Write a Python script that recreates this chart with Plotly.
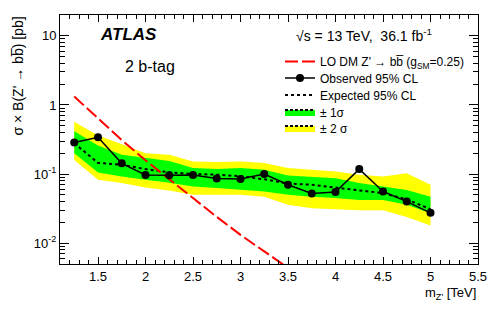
import plotly.graph_objects as go

# ---- data ----
mass = [1.25, 1.5, 1.75, 2.0, 2.25, 2.5, 2.75, 3.0, 3.25, 3.5, 3.75, 4.0, 4.25, 4.5, 4.75, 5.0]
observed = [0.287, 0.34, 0.143, 0.097, 0.096, 0.097, 0.086, 0.085, 0.100, 0.070, 0.0525, 0.055, 0.118, 0.056, 0.040, 0.0275]
expected = [0.28, 0.145, 0.136, 0.118, 0.106, 0.100, 0.098, 0.093, 0.084, 0.073, 0.070, 0.063, 0.058, 0.053, 0.043, 0.031]
plus2 = [0.57, 0.36, 0.27, 0.20, 0.19, 0.152, 0.149, 0.152, 0.144, 0.122, 0.115, 0.109, 0.098, 0.092, 0.103, 0.070]
plus1 = [0.415, 0.26, 0.19, 0.17, 0.155, 0.122, 0.118, 0.122, 0.115, 0.095, 0.092, 0.087, 0.074, 0.066, 0.059, 0.047]
minus1 = [0.20, 0.105, 0.092, 0.083, 0.075, 0.066, 0.063, 0.060, 0.056, 0.050, 0.047, 0.045, 0.042, 0.042, 0.036, 0.027]
minus2 = [0.16, 0.083, 0.074, 0.064, 0.058, 0.050, 0.050, 0.050, 0.047, 0.036, 0.032, 0.031, 0.030, 0.030, 0.024, 0.018]

theory_mass = [1.25, 1.5, 1.75, 2.0, 2.25, 2.5, 2.75, 3.0, 3.25, 3.5]
theory_xsec = [1.32, 0.63, 0.31, 0.158, 0.083, 0.045, 0.024, 0.0132, 0.0076, 0.0044]

y_tickvals = [0.01, 0.1, 1, 10]
y_ticktext = ["10<sup>-2</sup>", "10<sup>-1</sup>", "1", "10"]

FONT = "Liberation Sans, Arial, Helvetica, sans-serif"
GREEN = "#00ff00"
YELLOW = "#ffff00"

ML, MT, PW, PH = 60, 15, 418, 249  # plot area geometry in pixels


def px_x(p):
    return (p - ML) / PW


def px_y(p):
    return 1 - (p - MT) / PH


fig = go.Figure()

# bands
fig.add_trace(go.Scatter(x=mass + mass[::-1], y=plus2 + minus2[::-1], fill="toself",
                         fillcolor=YELLOW, line=dict(width=0), mode="lines",
                         showlegend=False, hoverinfo="skip"))
fig.add_trace(go.Scatter(x=mass + mass[::-1], y=plus1 + minus1[::-1], fill="toself",
                         fillcolor=GREEN, line=dict(width=0), mode="lines",
                         showlegend=False, hoverinfo="skip"))
# expected
fig.add_trace(go.Scatter(x=mass, y=expected, mode="lines", name="Expected 95% CL",
                         line=dict(color="black", width=2, dash="3px,3px"), legend="legend3"))
# theory
fig.add_trace(go.Scatter(x=theory_mass, y=theory_xsec, mode="lines",
                         name="LO DM Z' \u2192 bb\u0305 (g<sub>SM</sub>=0.25)",
                         line=dict(color="#ff0000", width=2, dash="13px,4px"), legend="legend"))
# observed
fig.add_trace(go.Scatter(x=mass, y=observed, mode="lines+markers", name="Observed 95% CL",
                         line=dict(color="black", width=1.5),
                         marker=dict(color="black", size=8, symbol="circle"), legend="legend2"))
# legend-only band entries
fig.add_trace(go.Scatter(x=[None], y=[None], mode="lines", fill="toself", fillcolor=GREEN,
                         line=dict(color="black", width=2, dash="3px,2px"),
                         name="\u00b1 1\u03c3", legend="legend4"))
fig.add_trace(go.Scatter(x=[None], y=[None], mode="lines", fill="toself", fillcolor=YELLOW,
                         line=dict(color="black", width=2, dash="3px,2px"),
                         name="\u00b1 2 \u03c3", legend="legend5"))

axis_common = dict(showline=True, linecolor="black", linewidth=1, mirror="ticks",
                   ticks="inside", tickcolor="black", showgrid=False, zeroline=False,
                   tickfont=dict(family=FONT, size=13, color="black"))

fig.update_xaxes(range=[1.1, 5.5], tick0=1.5, dtick=0.5, ticklen=7,
                 minor=dict(ticks="inside", dtick=0.1, tick0=1.1, ticklen=4, tickcolor="black"),
                 **axis_common)
minor_y = [m * 10 ** e for e in range(-3, 2) for m in range(2, 10)]
fig.update_yaxes(type="log", range=[-2.301, 1.301], tickmode="array",
                 tickvals=y_tickvals, ticktext=y_ticktext, ticklen=9,
                 minor=dict(ticks="inside", tickmode="array", tickvals=minor_y,
                            ticklen=5, tickcolor="black"),
                 **axis_common)

legend_rows = [61.5, 78, 95, 112, 128]
legends = {}
for i, row in enumerate(legend_rows):
    key = "legend" if i == 0 else "legend%d" % (i + 1)
    legends[key] = dict(x=px_x(280), y=px_y(row), xanchor="left", yanchor="middle",
                        bgcolor="rgba(0,0,0,0)", font=dict(family=FONT, size=12, color="black"),
                        itemwidth=30, borderwidth=0)

fig.update_layout(
    width=498, height=311,
    margin=dict(l=ML, r=498 - ML - PW, t=MT, b=311 - MT - PH),
    paper_bgcolor="white", plot_bgcolor="white",
    font=dict(family=FONT, color="black"),
    **legends,
)

ann = [
    dict(text="ATLAS", xref="paper", yref="paper", x=px_x(98),
         y=px_y(34), xanchor="left", yanchor="middle",
         font=dict(size=17, weight="bold", style="italic"), showarrow=False),
    dict(text="2 b-tag", xref="paper", yref="paper", x=px_x(123),
         y=px_y(66), xanchor="left", yanchor="middle",
         font=dict(size=16), showarrow=False),
    dict(text="\u221as = 13 TeV,  36.1 fb<sup>-1</sup>", xref="paper", yref="paper",
         x=px_x(294), y=px_y(35), xanchor="left", yanchor="middle",
         font=dict(size=14), showarrow=False),
    dict(text="\u03c3 \u00d7 B(Z' \u2192 bb\u0305) [pb]", xref="paper", yref="paper",
         x=px_x(17), y=1.0, xanchor="center", yanchor="top", textangle=-90,
         font=dict(size=14), showarrow=False),
    dict(text="m<sub>Z'</sub> [TeV]", xref="paper", yref="paper",
         x=1.0, y=px_y(293), xanchor="right", yanchor="middle",
         font=dict(size=13), showarrow=False),
]
fig.update_layout(annotations=ann)

fig.write_html("out.html", config={"displayModeBar": False},
               post_script="document.body.style.margin='0';")
